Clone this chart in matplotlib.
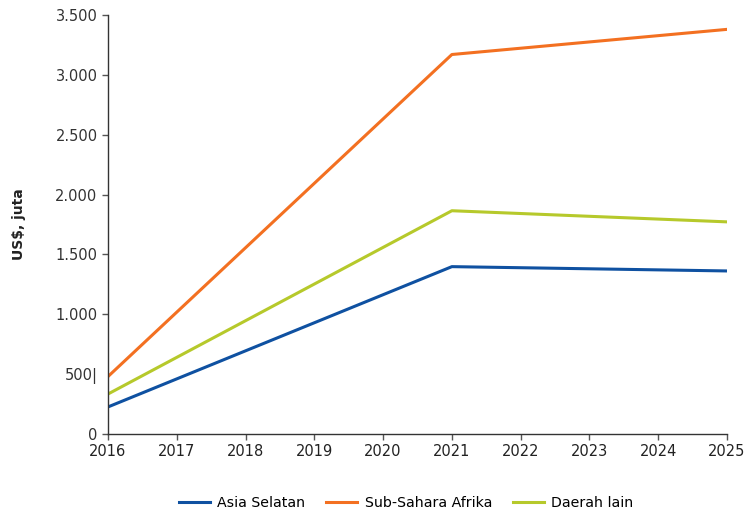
import matplotlib.pyplot as plt

years = [2016, 2021, 2025]
asia_selatan = [226, 1398, 1362]
sub_sahara = [480, 3170, 3380]
daerah_lain = [334, 1865, 1772]

year_ticks = list(range(2016, 2026))
y_ticks = [0, 500, 1000, 1500, 2000, 2500, 3000, 3500]
y_labels = ['0', '500|', '1.000', '1.500', '2.000', '2.500', '3.000', '3.500']

plt.rcParams['font.family'] = ['DejaVu Sans']

fig = plt.figure(figsize=(7.48, 5.19), dpi=100)
ax = fig.add_axes([108 / 748, 1 - 434 / 519, (727 - 108) / 748, (434 - 15) / 519])

ax.plot(years, asia_selatan, color='#0f51a1', lw=2.2, label='Asia Selatan')
ax.plot(years, sub_sahara, color='#f37021', lw=2.2, label='Sub-Sahara Afrika')
ax.plot(years, daerah_lain, color='#b6c92b', lw=2.2, label='Daerah lain')

ax.set_xlim(2016, 2025)
ax.set_ylim(0, 3500)
ax.set_xticks(year_ticks)
ax.set_xticklabels([str(y) for y in year_ticks], fontsize=10.5, color='#222222')
ax.set_yticks(y_ticks)
ax.set_yticklabels(y_labels, fontsize=10.5, color='#333333')
ax.tick_params(axis='both', direction='out', length=4, color='#555555', width=1)
ax.yaxis.get_major_ticks()[1].tick1line.set_visible(False)

for side in ['top', 'right']:
    ax.spines[side].set_visible(False)
for side in ['left', 'bottom']:
    ax.spines[side].set_color('#333333')
    ax.spines[side].set_linewidth(1)

ax.set_ylabel('US$, juta', fontsize=10, fontweight='bold', color='#222222', labelpad=21)

fig.legend(loc='center', bbox_to_anchor=(0.543, 1 - 503 / 519), ncol=3, frameon=False,
           fontsize=10.2, handlelength=2.2, columnspacing=1.5, handletextpad=0.5)

fig.savefig('out.png', dpi=100)
